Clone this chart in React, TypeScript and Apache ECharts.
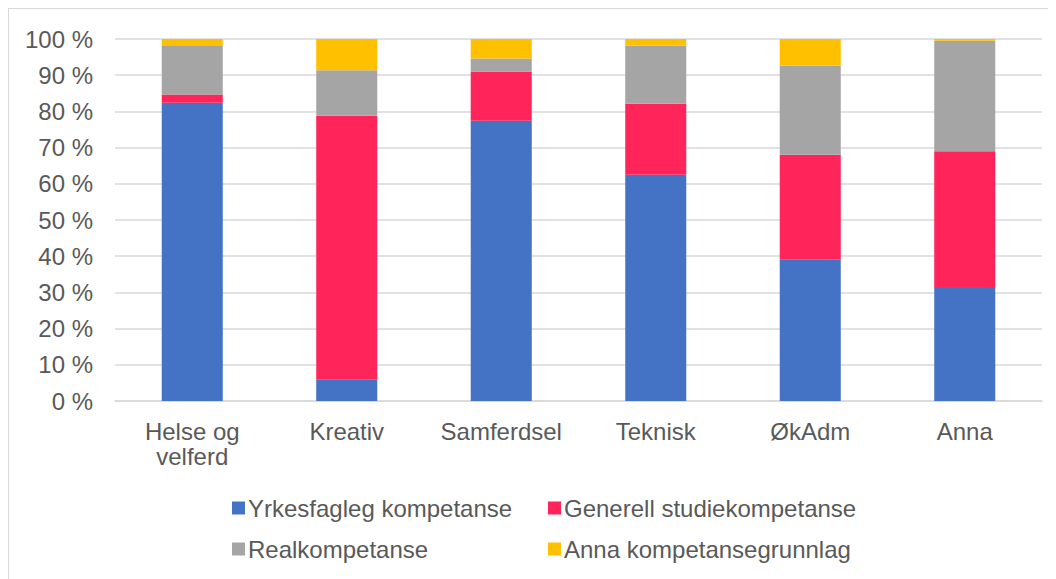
import React, { useEffect, useRef } from "react";
import * as echarts from "echarts";

const categories = ["Helse og\nvelferd", "Kreativ", "Samferdsel", "Teknisk", "ØkAdm", "Anna"];
const yrkesfagleg = [82.4, 6.0, 77.4, 62.5, 39.0, 31.5];
const generell = [2.3, 72.8, 13.6, 19.6, 29.0, 37.5];
const real = [13.4, 12.6, 3.6, 16.1, 24.7, 30.5];
const annaGrunnlag = [1.9, 8.6, 5.4, 1.8, 7.3, 0.5];
const seriesNames = [
  "Yrkesfagleg kompetanse",
  "Generell studiekompetanse",
  "Realkompetanse",
  "Anna kompetansegrunnlag",
];
const colors = ["#4472C4", "#FF2459", "#A5A5A5", "#FFC000"];

export default function App() {
  const ref = useRef<HTMLDivElement>(null);
  useEffect(() => {
    if (!ref.current) return;
    const chart = echarts.init(ref.current, null, { renderer: "svg" });
    const dataSets = [yrkesfagleg, generell, real, annaGrunnlag];
    const font = "'Liberation Sans', Arial, sans-serif";
    const legendText = {
      fontSize: 24,
      lineHeight: 24,
      color: "#595959",
      fontFamily: font,
      padding: [0, 0, 0, -2],
    };
    chart.setOption({
      animation: false,
      color: colors,
      textStyle: { fontFamily: font },
      grid: { left: 106, top: 30, width: 927, height: 362, containLabel: false },
      legend: [
        {
          orient: "vertical",
          left: 218,
          top: 482,
          itemWidth: 13,
          itemHeight: 13,
          itemGap: 17,
          icon: "rect",
          data: [seriesNames[0], seriesNames[2]],
          textStyle: legendText,
        },
        {
          orient: "vertical",
          left: 534,
          top: 482,
          itemWidth: 13,
          itemHeight: 13,
          itemGap: 17,
          icon: "rect",
          data: [seriesNames[1], seriesNames[3]],
          textStyle: legendText,
        },
      ],
      xAxis: {
        type: "category",
        data: categories,
        axisTick: { show: false },
        axisLine: { lineStyle: { color: "#D9D9D9", width: 1.5 } },
        axisLabel: {
          fontSize: 24,
          color: "#595959",
          lineHeight: 25,
          margin: 18,
          fontFamily: font,
          interval: 0,
        },
      },
      yAxis: {
        type: "value",
        min: 0,
        max: 100,
        interval: 10,
        axisLabel: {
          fontSize: 24,
          color: "#595959",
          margin: 22,
          fontFamily: font,
          formatter: (v: number) => v + " %",
        },
        splitLine: { lineStyle: { color: "#D9D9D9", width: 1.5 } },
      },
      series: dataSets.map((d, i) => ({
        name: seriesNames[i],
        type: "bar",
        stack: "total",
        barWidth: "39.5%",
        data: d,
        itemStyle: { color: colors[i] },
      })),
    });
    return () => chart.dispose();
  }, []);
  return (
    <div
      style={{
        width: 1048,
        height: 571,
        borderTop: "1px solid #D9D9D9",
        borderLeft: "1px solid #D9D9D9",
        boxSizing: "border-box",
        overflow: "hidden",
      }}
    >
      <div ref={ref} style={{ width: 1047, height: 570 }} />
    </div>
  );
}
